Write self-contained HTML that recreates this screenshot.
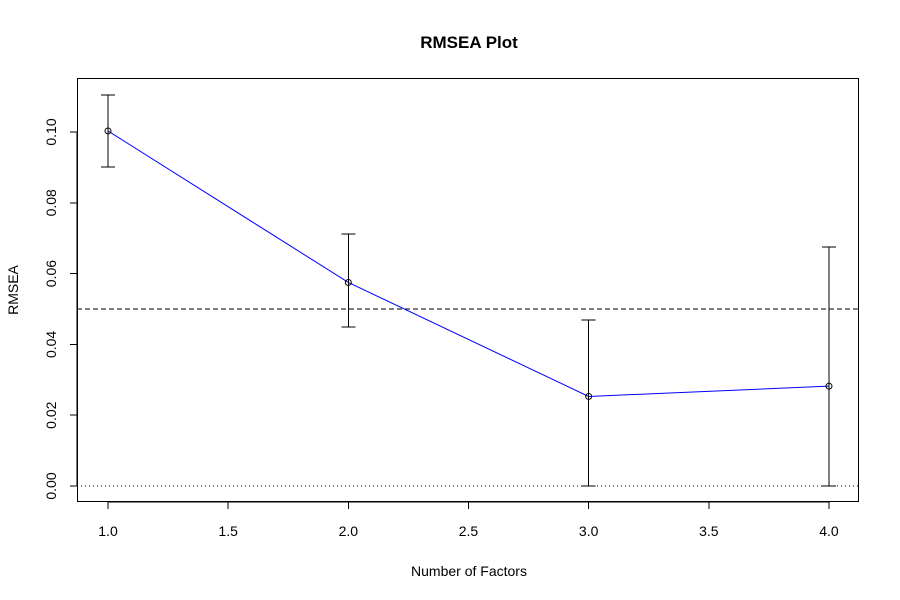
<!DOCTYPE html>
<html><head><meta charset="utf-8"><style>
body{margin:0;background:#fff}
svg{display:block;font-family:"Liberation Sans",Arial,sans-serif}
</style></head><body>
<svg id="chart" width="900" height="600" xmlns="http://www.w3.org/2000/svg">
<rect width="900" height="600" fill="#fff"/>
<text x="469" y="48" text-anchor="middle" font-size="17" font-weight="bold">RMSEA Plot</text>
<text x="469" y="576" text-anchor="middle" font-size="14">Number of Factors</text>
<text x="18" y="290" text-anchor="middle" font-size="14" transform="rotate(-90 18 290)">RMSEA</text>
<rect x="77.5" y="78.5" width="781" height="423" fill="none" stroke="#000" shape-rendering="crispEdges"/>
<g id="xaxis" shape-rendering="crispEdges"></g>
<g id="yaxis" shape-rendering="crispEdges"></g>
<g id="refs" shape-rendering="crispEdges"></g>
<g id="series"></g>
</svg>
<script>
const factors=[1,2,3,4];
const rmsea=[0.1003,0.0575,0.0253,0.0282];
const upper=[0.1105,0.0712,0.0469,0.0675];
const lower=[0.0901,0.0449,0.0,0.0];
const xTicks=[1.0,1.5,2.0,2.5,3.0,3.5,4.0];
const xTickLabels=["1.0","1.5","2.0","2.5","3.0","3.5","4.0"];
const yTicks=[0,0.02,0.04,0.06,0.08,0.10];
const yTickLabels=["0.00","0.02","0.04","0.06","0.08","0.10"];
const refValues=[0.05,0];

const NS="http://www.w3.org/2000/svg";
const X=v=>108+(v-1)*240.33;
const Y=v=>486-v*3540;
function mk(tag,attrs,parent,txt){const e=document.createElementNS(NS,tag);for(const k in attrs)e.setAttribute(k,attrs[k]);if(txt!==undefined)e.textContent=txt;parent.appendChild(e);return e;}
const xa=document.getElementById('xaxis'),ya=document.getElementById('yaxis'),rf=document.getElementById('refs'),se=document.getElementById('series');
mk('line',{x1:X(xTicks[0]),x2:X(xTicks[xTicks.length-1]),y1:502,y2:502,stroke:'#000'},xa);
xTicks.forEach((t,i)=>{
  const l=mk('line',{x1:X(t),x2:X(t),y1:502,y2:509,stroke:'#000'},xa);
  
  
  const tx=mk('text',{x:X(t),y:536,'text-anchor':'middle','font-size':14},xa,xTickLabels[i]);
  
  
});
mk('line',{x1:77,x2:77,y1:Y(yTicks[0]),y2:Y(yTicks[yTicks.length-1]),stroke:'#000'},ya);
yTicks.forEach((t,i)=>{
  const l=mk('line',{x1:70,x2:77,y1:Y(t),y2:Y(t),stroke:'#000'},ya);
  
  
  const tx=mk('text',{x:56,y:Y(t),'text-anchor':'middle','font-size':14,transform:`rotate(-90 56 ${Y(t)})`},ya,yTickLabels[i]);
  
  
});
refValues.forEach((v,i)=>{
  const l=mk('line',{x1:77,x2:859,y1:Y(v),y2:Y(v),stroke:'#000','stroke-width':1,'stroke-dasharray':i===0?'5,3':'1,3'},rf);
  
  
});
mk('polyline',{points:factors.map((f,i)=>X(f)+','+Y(rmsea[i])).join(' '),fill:'none',stroke:'#0000ff'},se);
factors.forEach((f,i)=>{
  const g=mk('g',{'shape-rendering':'crispEdges'},se);
  
  
  mk('line',{x1:X(f),x2:X(f),y1:Y(upper[i]),y2:Y(lower[i]),stroke:'#000'},g);
  mk('line',{x1:X(f)-7,x2:X(f)+7,y1:Y(upper[i]),y2:Y(upper[i]),stroke:'#000'},g);
  mk('line',{x1:X(f)-7,x2:X(f)+7,y1:Y(lower[i]),y2:Y(lower[i]),stroke:'#000'},g);
  const c=mk('circle',{cx:X(f),cy:Y(rmsea[i]),r:3,fill:'none',stroke:'#000'},se);
  
  
});
</script>
</body></html>
